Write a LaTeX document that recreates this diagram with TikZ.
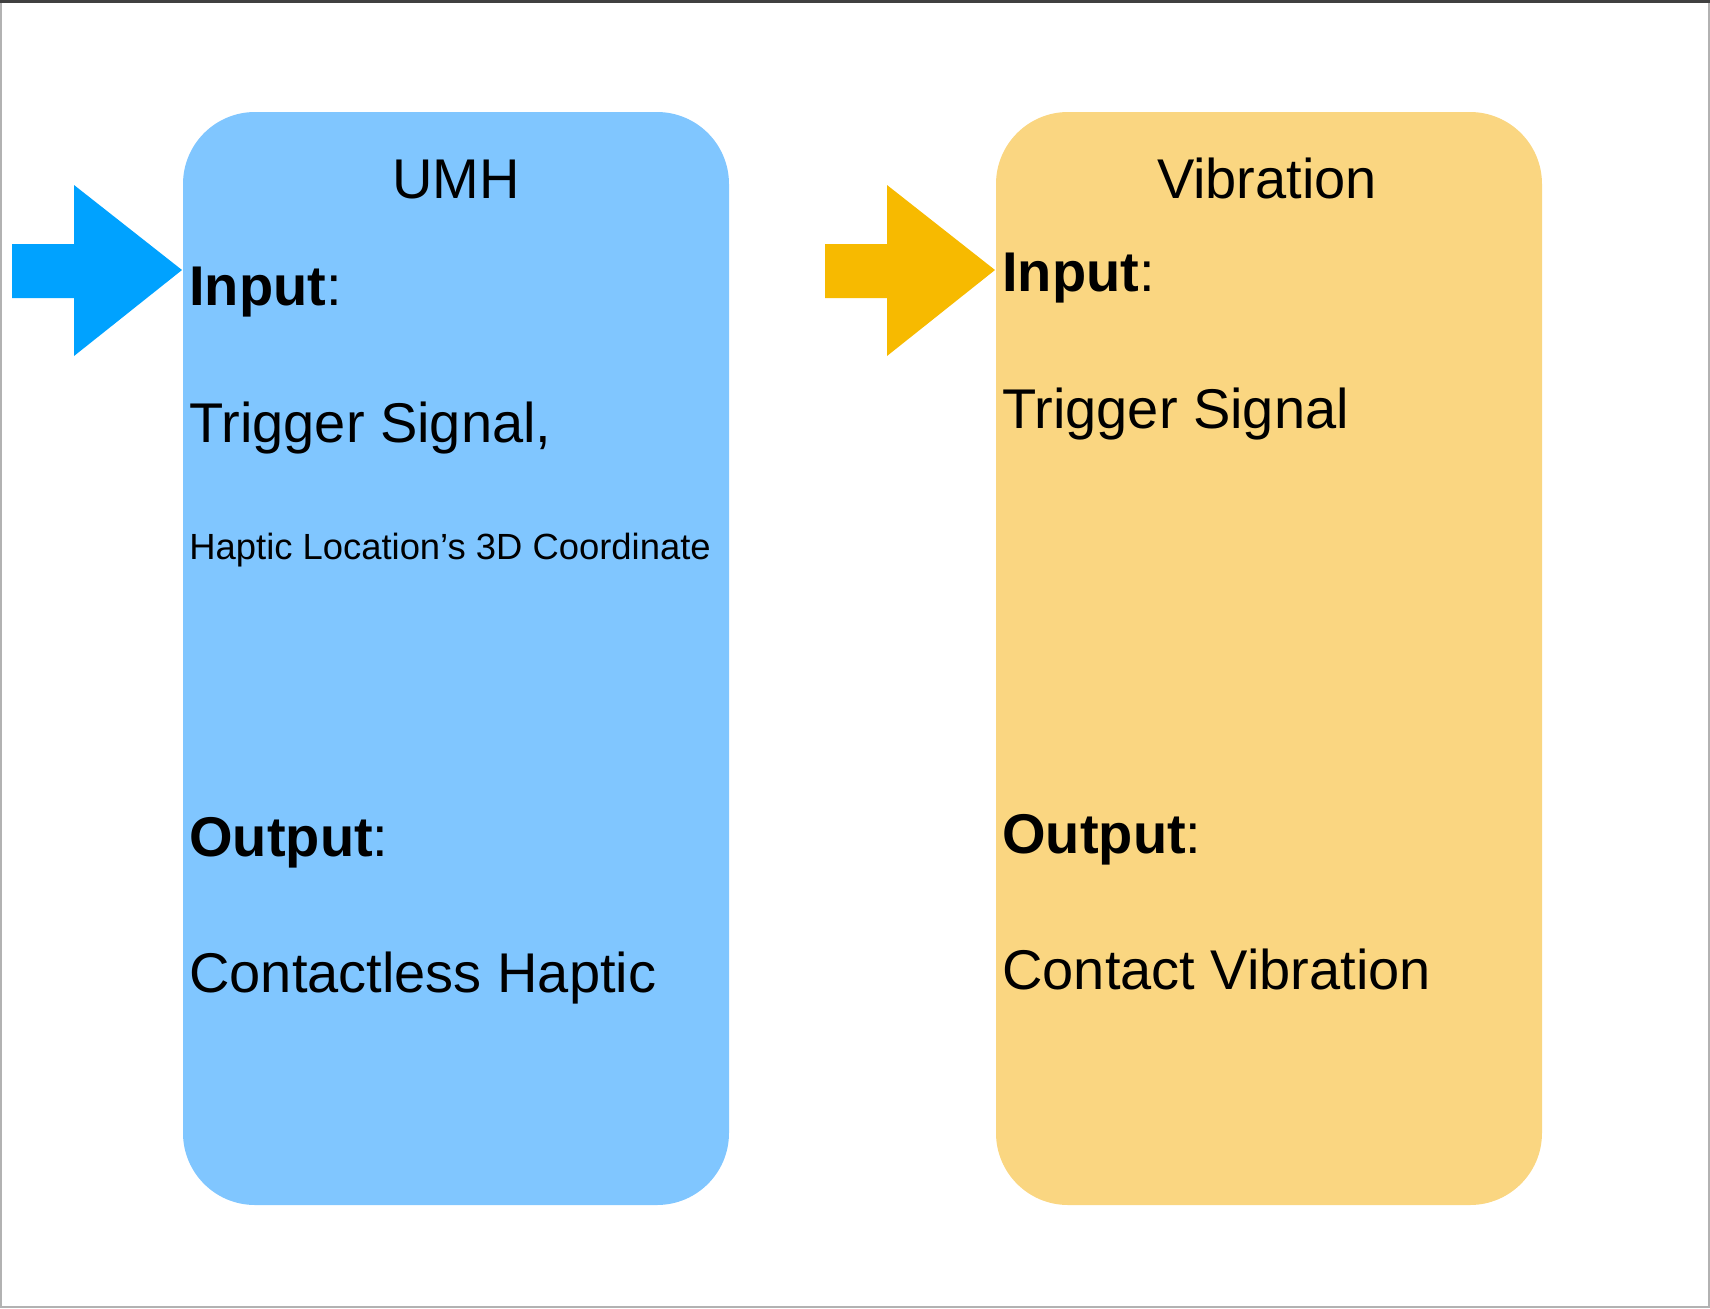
\documentclass[tikz,border=0pt]{standalone}
\usepackage{fontspec}
\setmainfont{Liberation Sans}
\definecolor{umhfill}{HTML}{80C6FF}
\definecolor{umhtip}{HTML}{00A2FF}
\definecolor{vibfill}{HTML}{FAD681}
\definecolor{vibtip}{HTML}{F7BA00}
\begin{document}
\begin{tikzpicture}[x=0.5pt, y=-0.5pt,
    blockbox/.style={rectangle, rounded corners=36pt, minimum width=273pt, minimum height=546.5pt, inner sep=0pt},
    title/.style={anchor=base, inner sep=0pt, font=\fontsize{28}{34}\selectfont},
    txt/.style={anchor=base west, inner sep=0pt, font=\fontsize{28}{34}\selectfont},
    smalltxt/.style={anchor=base west, inner sep=0pt, font=\fontsize{18.2}{22}\selectfont}]
  \useasboundingbox (0,0) rectangle (1710,1308);

  % Page frame
  \draw[black!30, line width=1pt] (1,1) rectangle (1709,1307);
  \draw[black!75, line width=1.5pt] (0,1.5) -- (1710,1.5);

  % The two blocks
  \node[blockbox, fill=umhfill] (umh) at (456,658.5) {};
  \node[blockbox, fill=vibfill] (vib) at (1269,658.5) {};

  % UMH block text
  \node[title] (umhtitle) at (456,198) {UMH};
  \node[txt] (umhinput) at (189,305) {\textbf{Input}:};
  \node[txt] (umhtrig) at (189,442) {Trigger Signal,};
  \node[smalltxt] (umhloc) at (189,559) {Haptic Location’s 3D Coordinate};
  \node[txt] (umhoutput) at (189,856) {\textbf{Output}:};
  \node[txt] (umhcontact) at (189,992) {Contactless Haptic};

  % Vibration block text
  \node[title] (vibtitle) at (1267,198) {Vibration};
  \node[txt] (vibinput) at (1002,291) {\textbf{Input}:};
  \node[txt] (vibtrig) at (1002,428) {Trigger Signal};
  \node[txt] (viboutput) at (1002,853) {\textbf{Output}:};
  \node[txt] (vibcontact) at (1002,989) {Contact Vibration};

  % Block arrows pointing into the blocks
  \coordinate (umhin) at (182,270);
  \coordinate (vibin) at (995,270);
  \foreach \tip/\col in {umhin/umhtip, vibin/vibtip} {
    \fill[\col] (\tip) -- ++(-108,-85) -- ++(0,59) -- ++(-62,0) -- ++(0,54)
      -- ++(62,0) -- ++(0,58) -- cycle;
  }
\end{tikzpicture}
\end{document}
